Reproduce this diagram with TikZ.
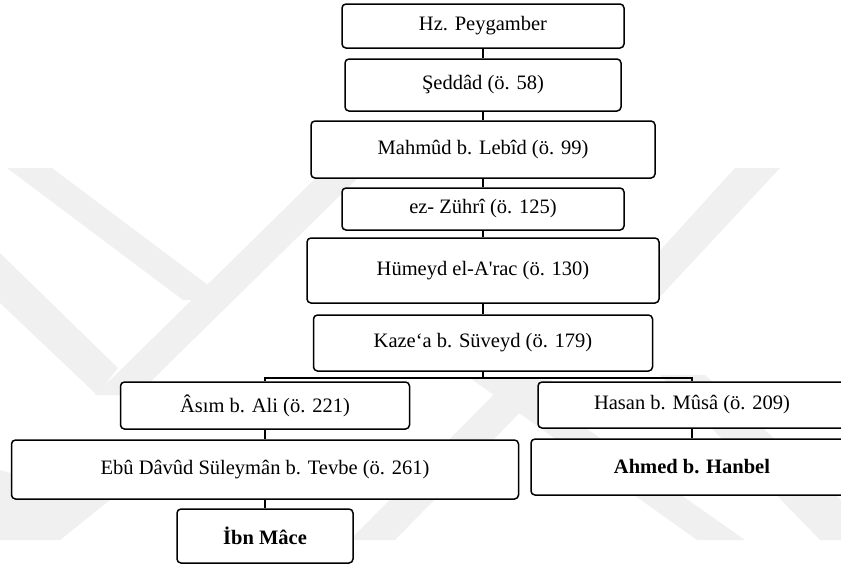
\documentclass[tikz,border=0pt]{standalone}
\usepackage{fontspec}
\setmainfont[Ligatures=TeXOff]{Liberation Serif}
\begin{document}
\begin{tikzpicture}[x=1pt,y=-1pt,
  person/.style={draw, line width=1.5pt, rounded corners=4pt, fill=white,
    inner sep=0pt, font=\fontsize{20.5}{24}\selectfont},
  link/.style={line width=1.5pt},
  mark band/.style={fill=black!6, draw=none}]
\useasboundingbox (0,0) rectangle (841,568);
\clip (0,0) rectangle (841,568);

% faint background emblem
\fill[mark band] (7,168) -- (52,168) -- (228,300) -- (183,300) -- cycle;
\fill[mark band] (95,395) -- (137,395) -- (368,168) -- (326,168) -- cycle;
\fill[mark band] (0,253) -- (0,303) -- (97,395) -- (118,368) -- cycle;
\fill[mark band] (615,300) -- (657,300) -- (780,168) -- (735,168) -- cycle;
\fill[mark band] (350,540) -- (395,540) -- (552,380) -- (510,378) -- cycle;
\fill[mark band] (470,378) -- (515,378) -- (745,540) -- (697,540) -- cycle;
\fill[mark band] (660,375) -- (705,375) -- (841,500) -- (841,540) -- (820,540) -- cycle;
\fill[mark band] (0,470) -- (0,540) -- (60,540) -- (110,500) -- cycle;

% chain of narrators
\node[person, minimum width=282pt, minimum height=44pt] (hz)  at (483,26)    {Hz. Peygamber};
\node[person, minimum width=276pt, minimum height=52pt] (sed) at (483,85)    {Şeddâd (ö. 58)};
\node[person, minimum width=344pt, minimum height=57pt] (mah) at (483,149.5) {Mahmûd b. Lebîd (ö. 99)};
\node[person, minimum width=282pt, minimum height=42pt] (zuh) at (483,209)   {ez- Zührî (ö. 125)};
\node[person, minimum width=352pt, minimum height=65pt] (hum) at (483,270.5) {Hümeyd el-A'rac (ö. 130)};
\node[person, minimum width=339pt, minimum height=56pt] (kaz) at (483,343)   {Kaze‘a b. Süveyd (ö. 179)};

% left branch
\node[person, minimum width=289pt, minimum height=47pt] (asi) at (265,405.5) {Âsım b. Ali (ö. 221)};
\node[person, minimum width=507pt, minimum height=59pt] (ebu) at (265,469.5) {Ebû Dâvûd Süleymân b. Tevbe (ö. 261)};
\node[person, minimum width=176pt, minimum height=54pt] (ibn) at (265,536)   {\bfseries İbn Mâce};

% right branch
\node[person, minimum width=308pt, minimum height=46pt] (has) at (692,405) {Hasan b. Mûsâ (ö. 209)};
\node[person, minimum width=322pt, minimum height=56pt] (ahm) at (692,467) {\bfseries Ahmed b. Hanbel};

% connectors
\draw[link] (hz.south)  -- (sed.north);
\draw[link] (sed.south) -- (mah.north);
\draw[link] (mah.south) -- (zuh.north);
\draw[link] (zuh.south) -- (hum.north);
\draw[link] (hum.south) -- (kaz.north);
\draw[link] (kaz.south) -- ++(0,6) coordinate (bus);
\draw[link] (bus) -| (asi.north);
\draw[link] (bus) -| (has.north);
\draw[link] (asi.south) -- (ebu.north);
\draw[link] (ebu.south) -- (ibn.north);
\draw[link] (has.south) -- (ahm.north);
\end{tikzpicture}
\end{document}
